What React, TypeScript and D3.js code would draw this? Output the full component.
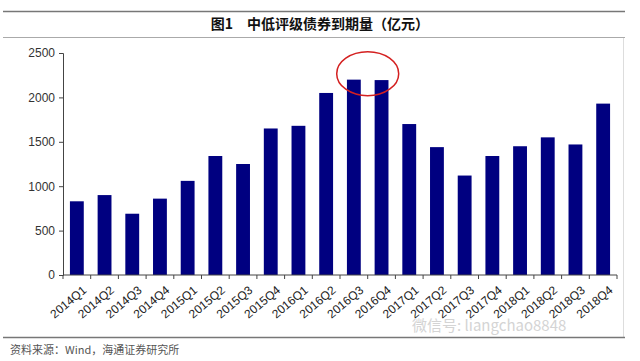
import React, { useEffect, useRef } from "react";
import * as d3 from "d3";

const quarters = [
  "2014Q1", "2014Q2", "2014Q3", "2014Q4",
  "2015Q1", "2015Q2", "2015Q3", "2015Q4",
  "2016Q1", "2016Q2", "2016Q3", "2016Q4",
  "2017Q1", "2017Q2", "2017Q3", "2017Q4",
  "2018Q1", "2018Q2", "2018Q3", "2018Q4",
];
const maturity = [
  830, 900, 690, 860,
  1060, 1340, 1250, 1650,
  1680, 2050, 2200, 2195,
  1700, 1440, 1120, 1340,
  1450, 1550, 1470, 1930,
];
const yTicks = [0, 500, 1000, 1500, 2000, 2500];

const W = 640;
const H = 361;
const latin = "'Liberation Sans', Arial, sans-serif";
const cjk = "'Noto Sans CJK SC', sans-serif";

const App = () => {
  const svgRef = useRef<SVGSVGElement>(null);

  useEffect(() => {
    const svg = d3.select(svgRef.current);
    svg.selectAll("*").remove();

    const margin = { top: 53, right: 23, bottom: 86, left: 63 };
    const x = d3
      .scaleBand()
      .domain(quarters)
      .range([margin.left, W - margin.right])
      .paddingInner(0.5)
      .paddingOuter(0.25);
    const y = d3.scaleLinear().domain([0, 2500]).range([H - margin.bottom, margin.top]);

    svg.append("rect").attr("width", W).attr("height", H).attr("fill", "#fff");

    // title band
    svg.append("line").attr("x1", 3).attr("x2", 625).attr("y1", 11.5).attr("y2", 11.5)
      .attr("stroke", "#777").attr("stroke-width", 1.5);
    svg.append("line").attr("x1", 3).attr("x2", 625).attr("y1", 37.5).attr("y2", 37.5)
      .attr("stroke", "#aaa").attr("stroke-width", 1);
    svg.append("text").attr("x", 320).attr("y", 29).attr("text-anchor", "middle")
      .attr("font-family", cjk).attr("font-weight", "bold")
      .attr("font-size", 14).attr("fill", "#111")
      .text("图1　中低评级债券到期量（亿元）");

    // frame of plot area
    svg.append("line").attr("x1", 623.5).attr("x2", 623.5).attr("y1", 38).attr("y2", 337)
      .attr("stroke", "#ddd");
    svg.append("line").attr("x1", 3).attr("x2", 625).attr("y1", 337.5).attr("y2", 337.5)
      .attr("stroke", "#777").attr("stroke-width", 1.5);

    // bars
    svg.append("g").selectAll("rect").data(maturity).enter().append("rect")
      .attr("x", (d, i) => x(quarters[i]))
      .attr("y", (d) => y(d))
      .attr("width", x.bandwidth())
      .attr("height", (d) => y(0) - y(d))
      .attr("fill", "#000080");

    // y axis
    const yAxis = svg.append("g").attr("transform", `translate(${margin.left},0)`)
      .call(d3.axisLeft(y).tickValues(yTicks).tickFormat(d3.format("d")).tickSize(4).tickPadding(4));
    yAxis.select(".domain").attr("stroke", "#444");
    yAxis.selectAll("line").attr("stroke", "#444");
    yAxis.selectAll("text").attr("font-family", latin)
      .attr("font-size", 12).attr("fill", "#333");

    // x axis (ticks between categories)
    const step = x.step();
    const x0 = margin.left;
    const xAxis = svg.append("g").attr("transform", `translate(0,${y(0)})`);
    xAxis.append("line").attr("x1", x0).attr("x2", W - margin.right)
      .attr("stroke", "#444");
    xAxis.selectAll("line.tk").data(d3.range(quarters.length + 1)).enter().append("line")
      .attr("class", "tk")
      .attr("x1", (i) => x0 + i * step).attr("x2", (i) => x0 + i * step)
      .attr("y1", 0).attr("y2", 4).attr("stroke", "#444");
    xAxis.selectAll("text").data(quarters).enter().append("text")
      .attr("transform", (d) => `translate(${(x(d) as number) + x.bandwidth() / 2 + 5},10) rotate(-40)`)
      .attr("text-anchor", "end")
      .attr("dy", "0.7em")
      .attr("font-family", latin)
      .attr("font-size", 12).attr("fill", "#222")
      .text((d) => d);

    // highlight ellipse around 2016Q3-Q4
    const cx = ((x("2016Q3") as number) + (x("2016Q4") as number) + x.bandwidth()) / 2;
    svg.append("ellipse").attr("cx", cx).attr("cy", y(2200) - 6)
      .attr("rx", 31).attr("ry", 22)
      .attr("fill", "none").attr("stroke", "#d42020").attr("stroke-width", 1.5);

    // watermark
    svg.append("text").attr("x", 412).attr("y", 331)
      .attr("font-family", cjk).attr("font-size", 15)
      .attr("fill", "#d4d4d4")
      .text("微信号: liangchao8848");

    // source
    svg.append("text").attr("x", 10).attr("y", 354)
      .attr("font-family", cjk).attr("font-size", 11)
      .attr("fill", "#555")
      .text("资料来源：Wind，海通证券研究所");
  }, []);

  return (
    <svg ref={svgRef} width={W} height={H}
      style={{ position: "absolute", left: 0, top: 0, display: "block" }} />
  );
};

export default App;
